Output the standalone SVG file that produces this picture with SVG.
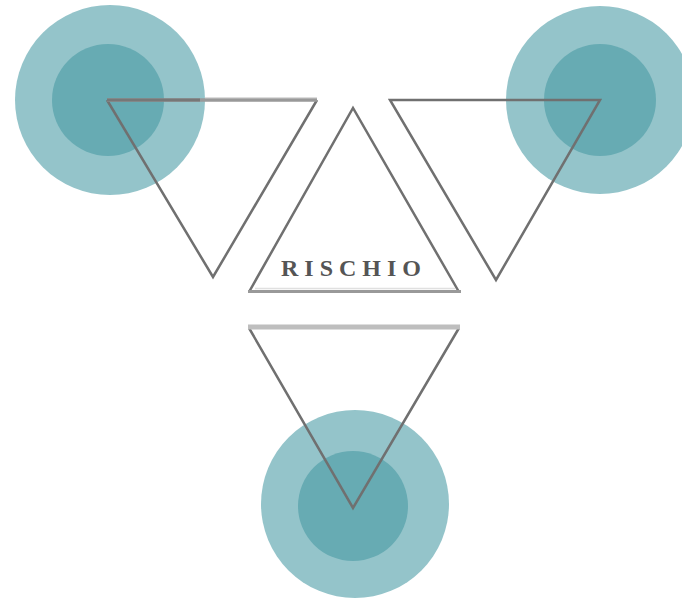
<svg xmlns="http://www.w3.org/2000/svg" width="682" height="601" viewBox="0 0 682 601">
<style>
.outer{fill:#94c4ca}
.inner{fill:#67abb3}
.tri{fill:none;stroke:#707070;stroke-width:2.5;stroke-linejoin:miter}
.lbl{font-family:"Liberation Serif",serif;font-weight:bold;font-size:24px;fill:#555;letter-spacing:6px}
</style>
<rect width="682" height="601" fill="#fff"/>
<g id="circle-left"><circle class="outer" cx="110" cy="100" r="95"/><circle class="inner" cx="108" cy="100" r="56"/></g>
<g id="circle-right"><circle class="outer" cx="600" cy="100" r="94"/><circle class="inner" cx="600" cy="100" r="56"/></g>
<g id="circle-bottom"><circle class="outer" cx="355" cy="504" r="94"/><circle class="inner" cx="353" cy="506" r="55"/></g>
<g id="connectors">
<g id="tri-left"><polyline class="tri" points="107,100 213,277 317,100"/><line x1="107" y1="100" x2="317" y2="100" stroke="#999" stroke-width="3.5"/><line x1="205" y1="97.5" x2="317" y2="97.5" stroke="#ddd" stroke-width="1.2"/><line x1="107" y1="100" x2="200" y2="100" stroke="#777" stroke-width="3"/></g>
<g id="tri-right"><polygon class="tri" points="390,100 600,100 496,280" stroke="#6a6a6a" stroke-width="3"/></g>
<g id="tri-bottom"><polyline class="tri" points="249,328 353,508 459,328"/><line x1="248" y1="327" x2="460" y2="327" stroke="#bebebe" stroke-width="5"/></g>
</g>
<g id="rischio"><polyline class="tri" points="249,292 353,108 459,292"/><line x1="248" y1="291.5" x2="461" y2="291.5" stroke="#999" stroke-width="3"/><line x1="255" y1="288.5" x2="455" y2="288.5" stroke="#e0e0e0" stroke-width="1.5"/><text class="lbl" x="354" y="276" text-anchor="middle">RISCHIO</text></g>
</svg>
